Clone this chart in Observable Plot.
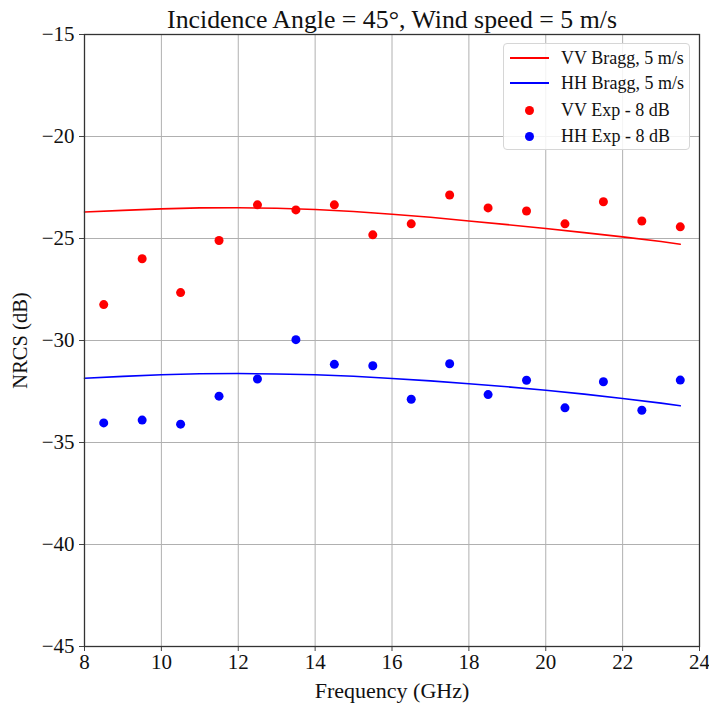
<!DOCTYPE html>
<html>
<head>
<meta charset="utf-8">
<script src="https://cdn.jsdelivr.net/npm/d3@7"></script>
<script src="https://cdn.jsdelivr.net/npm/@observablehq/plot@0.6"></script>
<style>
  html, body { margin: 0; padding: 0; background: #fff; }
  #wrap { position: relative; width: 709px; height: 706px; font-family: "Liberation Serif", "DejaVu Serif", serif; }
  #wrap svg text { font-family: "Liberation Serif", "DejaVu Serif", serif; }
  #legend { position: absolute; left: 503px; top: 43px; width: 187px; height: 107px; box-sizing: border-box;
    border: 1px solid #d6d6d6; border-radius: 4px; background: rgba(255,255,255,0.85); font-size: 18px; color: #111; }
  .row { position: absolute; left: 0; height: 20px; display: flex; align-items: center; }
  .sw { width: 40px; margin-left: 5px; display: flex; justify-content: center; align-items: center; }
  .ln { width: 39px; height: 2px; }
  .dt { width: 9px; height: 9px; border-radius: 50%; }
  .lb { margin-left: 12px; white-space: nowrap; }
</style>
</head>
<body>
<div id="wrap"></div>
<script>
// ---- data ----
const title = "Incidence Angle = 45°, Wind speed = 5 m/s";
const xLabel = "Frequency (GHz)";
const yLabel = "NRCS (dB)";
const xTicks = [8, 10, 12, 14, 16, 18, 20, 22, 24];
const yTicks = [-45, -40, -35, -30, -25, -20, -15];

const expFreq = [8.5, 9.5, 10.5, 11.5, 12.5, 13.5, 14.5, 15.5, 16.5, 17.5, 18.5, 19.5, 20.5, 21.5, 22.5, 23.5];
const vvExp = [-28.24, -25.99, -27.65, -25.1, -23.35, -23.6, -23.35, -24.82, -24.28, -22.87, -23.5, -23.65, -24.28, -23.2, -24.14, -24.43];
const hhExp = [-34.04, -33.9, -34.1, -32.73, -31.89, -29.96, -31.17, -31.24, -32.88, -31.14, -32.65, -31.95, -33.3, -32.02, -33.42, -31.94];

const braggFreq = [8, 9, 10, 11, 12, 13, 14, 15, 16, 17, 18, 19, 20, 21, 22, 23, 23.5];
const vvBragg = [-23.7, -23.62, -23.55, -23.5, -23.49, -23.52, -23.58, -23.68, -23.81, -23.96, -24.14, -24.32, -24.51, -24.71, -24.92, -25.15, -25.28];
const hhBragg = [-31.85, -31.76, -31.68, -31.63, -31.62, -31.64, -31.68, -31.75, -31.86, -31.98, -32.12, -32.27, -32.44, -32.63, -32.84, -33.07, -33.2];

const seriesNames = ["VV Bragg, 5 m/s", "HH Bragg, 5 m/s", "VV Exp - 8 dB", "HH Exp - 8 dB"];
const seriesColors = ["#ff0000", "#0000ff", "#ff0000", "#0000ff"];
const seriesKinds = ["line", "line", "dot", "dot"];

// ---- build tables ----
const vvLine = braggFreq.map((f, i) => ({f, v: vvBragg[i]}));
const hhLine = braggFreq.map((f, i) => ({f, v: hhBragg[i]}));
const vvPts = expFreq.map((f, i) => ({f, v: vvExp[i]}));
const hhPts = expFreq.map((f, i) => ({f, v: hhExp[i]}));

const font = "Liberation Serif";
const chart = Plot.plot({
  width: 709,
  height: 706,
  marginLeft: 84,
  marginRight: 10,
  marginTop: 34,
  marginBottom: 60,
  style: {fontFamily: font, fontSize: "21px", color: "#111", background: "#fff"},
  x: {domain: [8, 24], ticks: xTicks, label: null},
  y: {domain: [-45, -15], ticks: yTicks, label: null},
  marks: [
    Plot.gridX(xTicks, {stroke: "#b0b0b0", strokeOpacity: 1, strokeWidth: 1}),
    Plot.gridY(yTicks, {stroke: "#b0b0b0", strokeOpacity: 1, strokeWidth: 1}),
    Plot.line(vvLine, {x: "f", y: "v", stroke: seriesColors[0], strokeWidth: 1.6}),
    Plot.line(hhLine, {x: "f", y: "v", stroke: seriesColors[1], strokeWidth: 1.6}),
    Plot.dot(vvPts, {x: "f", y: "v", fill: seriesColors[2], r: 4.5}),
    Plot.dot(hhPts, {x: "f", y: "v", fill: seriesColors[3], r: 4.5}),
    Plot.axisX(xTicks, {tickSize: 5, tickPadding: 3, fontSize: 21, fontFamily: font, label: null, stroke: "#444"}),
    Plot.axisY(yTicks, {tickSize: 5, tickPadding: 5, fontSize: 21, fontFamily: font, label: null, stroke: "#444"}),
    Plot.frame({stroke: "#333", strokeWidth: 1.3}),
    Plot.text([title], {frameAnchor: "top", textAnchor: "middle", lineAnchor: "middle", dy: -15, fontSize: 25.8, fontFamily: font, fill: "#111"}),
    Plot.text([xLabel], {frameAnchor: "bottom", textAnchor: "middle", lineAnchor: "middle", dy: 44, fontSize: 22, fontFamily: font, fill: "#111"}),
    Plot.text([yLabel], {frameAnchor: "left", textAnchor: "middle", lineAnchor: "middle", dx: -64, rotate: -90, fontSize: 20.5, fontFamily: font, fill: "#111"})
  ]
});
const wrap = document.getElementById("wrap");
wrap.appendChild(chart);

// ---- legend ----
const legend = document.createElement("div");
legend.id = "legend";
const rowTops = [4, 29, 56, 82];
seriesNames.forEach((name, i) => {
  const row = document.createElement("div");
  row.className = "row";
  row.style.top = rowTops[i] + "px";
  const sw = document.createElement("div");
  sw.className = "sw";
  const mk = document.createElement("div");
  mk.className = seriesKinds[i] === "line" ? "ln" : "dt";
  mk.style.background = seriesColors[i];
  sw.appendChild(mk);
  const lb = document.createElement("div");
  lb.className = "lb";
  lb.textContent = name;
  row.appendChild(sw);
  row.appendChild(lb);
  legend.appendChild(row);
});
wrap.appendChild(legend);
</script>
</body>
</html>
